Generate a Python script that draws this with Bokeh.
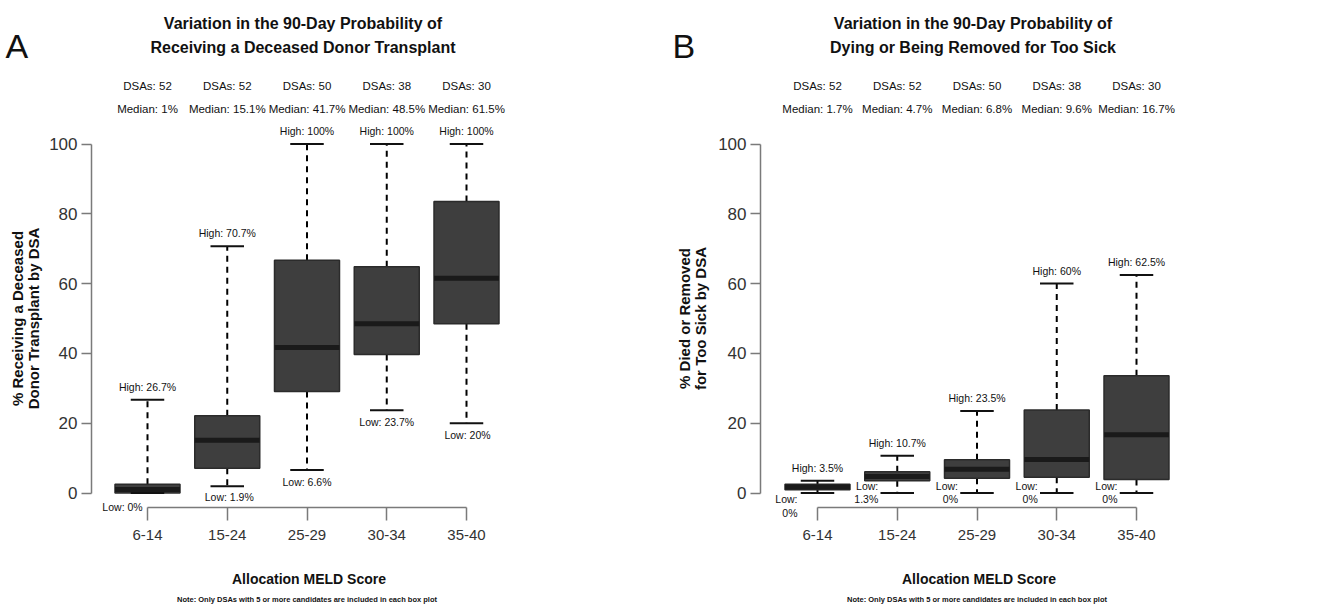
import math
from bokeh.plotting import figure
from bokeh.models import FixedTicker, Range1d
from bokeh.layouts import row
from bokeh.embed import file_html
from bokeh.resources import INLINE
from bokeh.core.properties import value

# ---------------- data ----------------
categories = ["6-14", "15-24", "25-29", "30-34", "35-40"]
dsas = [52, 52, 50, 38, 30]

a_low = [0, 1.9, 6.6, 23.7, 20]
a_q1 = [0, 7.1, 29.1, 39.7, 48.5]
a_median = [1, 15.1, 41.7, 48.5, 61.5]
a_q3 = [2.5, 22.1, 66.7, 64.8, 83.5]
a_high = [26.7, 70.7, 100, 100, 100]
a_median_text = ["1%", "15.1%", "41.7%", "48.5%", "61.5%"]
a_low_text = ["0%", "1.9%", "6.6%", "23.7%", "20%"]
a_high_text = ["26.7%", "70.7%", "100%", "100%", "100%"]

b_low = [0, 0, 0, 0, 0]
b_q1 = [0.9, 3.5, 4.2, 4.5, 3.9]
b_median = [1.7, 4.7, 6.8, 9.6, 16.7]
b_q3 = [2.5, 6.1, 9.5, 23.8, 33.6]
b_high = [3.5, 10.7, 23.5, 60, 62.5]
b_median_text = ["1.7%", "4.7%", "6.8%", "9.6%", "16.7%"]
b_low_text = ["0%", "1.3%", "0%", "0%", "0%"]
b_high_text = ["3.5%", "10.7%", "23.5%", "60%", "62.5%"]

y_ticks = [0, 20, 40, 60, 80, 100]

# ---------------- layout constants (pixels) ----------------
H = 606
XAXIS_PX = 507
Y0_PX = 492.5
Y100_PX = 143.5
SPACING = 79.75
BOX_W = 0.815
CAP_W = 0.42

SANS = "Liberation Sans"
INK = "#111111"


def make_panel(W, yaxis_px, cat1_px, letter, letter_px, title1, title2, ylab1, ylab2, ylab_px,
               low, q1, med, q3, high, med_text, low_text, high_text, panel_b):
    ys = (Y0_PX - Y100_PX) / 100.0
    y_end = 100 + Y100_PX / ys
    y_start = -(H - Y0_PX) / ys
    x_start = 1 - cat1_px / SPACING
    x_end = x_start + W / SPACING

    def px(v):
        return x_start + v / SPACING

    def py(v):
        return y_end - v / ys

    p = figure(width=W, height=H, output_backend="svg", toolbar_location=None,
               x_range=Range1d(x_start, x_end), y_range=Range1d(y_start, y_end),
               min_border=0, title=None)
    p.outline_line_color = None
    p.xgrid.visible = False
    p.ygrid.visible = False
    p.background_fill_color = "white"
    p.border_fill_color = "white"

    xs = [i + 1 for i in range(len(categories))]

    # axes (library axes, pinned at fixed locations)
    p.yaxis.fixed_location = px(yaxis_px)
    p.yaxis.ticker = FixedTicker(ticks=y_ticks)
    p.yaxis.bounds = (0, 100)
    p.yaxis.major_tick_out = 10
    p.yaxis.major_tick_in = 0
    p.yaxis.minor_tick_line_color = None
    p.yaxis.axis_line_color = "#7a7a7a"
    p.yaxis.axis_line_width = 1.5
    p.yaxis.major_tick_line_color = "#7a7a7a"
    p.yaxis.major_tick_line_width = 1.5
    p.yaxis.major_label_text_font = SANS
    p.yaxis.major_label_text_font_size = "17px"
    p.yaxis.major_label_text_color = "#333333"
    p.yaxis.major_label_standoff = 4
    p.yaxis.major_label_orientation = "horizontal"

    p.xaxis.fixed_location = py(XAXIS_PX)
    p.xaxis.ticker = FixedTicker(ticks=xs)
    p.xaxis.bounds = (1, len(categories))
    p.xaxis.major_label_overrides = {x: c for x, c in zip(xs, categories)}
    p.xaxis.major_tick_out = 13
    p.xaxis.major_tick_in = 0
    p.xaxis.minor_tick_line_color = None
    p.xaxis.axis_line_color = "#7a7a7a"
    p.xaxis.axis_line_width = 1.5
    p.xaxis.major_tick_line_color = "#7a7a7a"
    p.xaxis.major_tick_line_width = 1.5
    p.xaxis.major_label_text_font = SANS
    p.xaxis.major_label_text_font_size = "15px"
    p.xaxis.major_label_text_color = "#333333"
    p.xaxis.major_label_standoff = 9

    # whiskers
    dash = "6 5"
    p.segment(x0=xs, y0=q3, x1=xs, y1=high, line_color="black", line_width=2, line_dash=dash)
    p.segment(x0=xs, y0=q1, x1=xs, y1=low, line_color="black", line_width=2, line_dash=dash)
    # boxes
    p.vbar(x=xs, width=BOX_W, bottom=q1, top=q3, fill_color="#3e3e3e",
           line_color="#2b2b2b", line_width=1.5)
    # medians
    p.segment(x0=[x - BOX_W / 2 for x in xs], y0=med, x1=[x + BOX_W / 2 for x in xs], y1=med,
              line_color="#1a1a1a", line_width=5)
    # caps
    for v in (high, low):
        p.segment(x0=[x - CAP_W / 2 for x in xs], y0=v, x1=[x + CAP_W / 2 for x in xs], y1=v,
                  line_color=INK, line_width=2)

    lab_size = "10.5px"
    # High labels
    p.text(x=xs, y=high, text=["High: " + t for t in high_text], y_offset=-13,
           text_align="center", text_baseline="middle", text_font=value(SANS),
           text_font_size=lab_size, text_color=INK)

    # Low labels
    if not panel_b:
        x_off = [-25, 2, 0, 0, 1]
        y_off = [14, 11, 12.5, 11.5, 12]
        p.text(x=xs, y=low, text=["Low: " + t for t in low_text], x_offset=x_off, y_offset=y_off,
               text_align="center", text_baseline="middle", text_font=value(SANS),
               text_font_size=lab_size, text_color=INK)
    else:
        x_off = [-20, -19, -19, -19, -19]
        y_off1 = [6, -7, -7, -7, -7]
        y_off2 = [20, 6, 6, 6, 6]
        p.text(x=xs, y=low, text=["Low:"] * len(xs), x_offset=x_off, y_offset=y_off1,
               text_align="right", text_baseline="middle", text_font=value(SANS),
               text_font_size=lab_size, text_color=INK)
        p.text(x=xs, y=low, text=low_text, x_offset=x_off, y_offset=y_off2,
               text_align="right", text_baseline="middle", text_font=value(SANS),
               text_font_size=lab_size, text_color=INK)

    # DSAs / Median header
    p.text(x=xs, y=[py(85)] * len(xs), text=["DSAs: %d" % d for d in dsas],
           text_align="center", text_baseline="middle", text_font=value(SANS),
           text_font_size="11.5px", text_color=INK)
    p.text(x=xs, y=[py(108)] * len(xs), text=["Median: " + t for t in med_text],
           text_align="center", text_baseline="middle", text_font=value(SANS),
           text_font_size="11.5px", text_color=INK)

    # title
    mid = (1 + len(categories)) / 2.0
    p.text(x=[mid, mid], y=[py(22.7), py(46.7)], text=[title1, title2], x_offset=-4,
           text_align="center", text_baseline="middle", text_font=value(SANS),
           text_font_style="bold", text_font_size="16px", text_color=INK)

    # panel letter
    p.text(x=[px(letter_px)], y=[py(45)], text=[letter], text_align="left",
           text_baseline="alphabetic", text_font=value(SANS), text_font_size="34px",
           text_color=INK)

    # y axis title (two lines, rotated)
    ycen = py(318)
    p.text(x=[px(ylab_px[0]), px(ylab_px[1])], y=[ycen, ycen], text=[ylab1, ylab2],
           angle=math.pi / 2, text_align="center", text_baseline="middle",
           text_font=value(SANS), text_font_style="bold", text_font_size="15px",
           text_color=INK)

    # x axis title and note
    p.text(x=[mid], y=[py(578)], text=["Allocation MELD Score"], x_offset=2,
           text_align="center", text_baseline="middle", text_font=value(SANS),
           text_font_style="bold", text_font_size="14px", text_color=INK)
    p.text(x=[mid], y=[py(599)], text=["Note: Only DSAs with 5 or more candidates are included in each box plot"],
           text_align="center", text_baseline="middle", text_font=value(SANS),
           text_font_style="bold", text_font_size="7.5px", text_color=INK)
    return p


pA = make_panel(665, 91, 147, "A", 5,
                "Variation in the 90-Day Probability of", "Receiving a Deceased Donor Transplant",
                "% Receiving a Deceased", "Donor Transplant by DSA", (17, 33),
                a_low, a_q1, a_median, a_q3, a_high, a_median_text, a_low_text, a_high_text, False)
pB = make_panel(664, 95, 152, "B", 7,
                "Variation in the 90-Day Probability of", "Dying or Being Removed for Too Sick",
                "% Died or Removed", "for Too Sick by DSA", (18.5, 35),
                b_low, b_q1, b_median, b_q3, b_high, b_median_text, b_low_text, b_high_text, True)

layout = row(pA, pB)
open("out.html", "w").write(file_html(layout, INLINE))
